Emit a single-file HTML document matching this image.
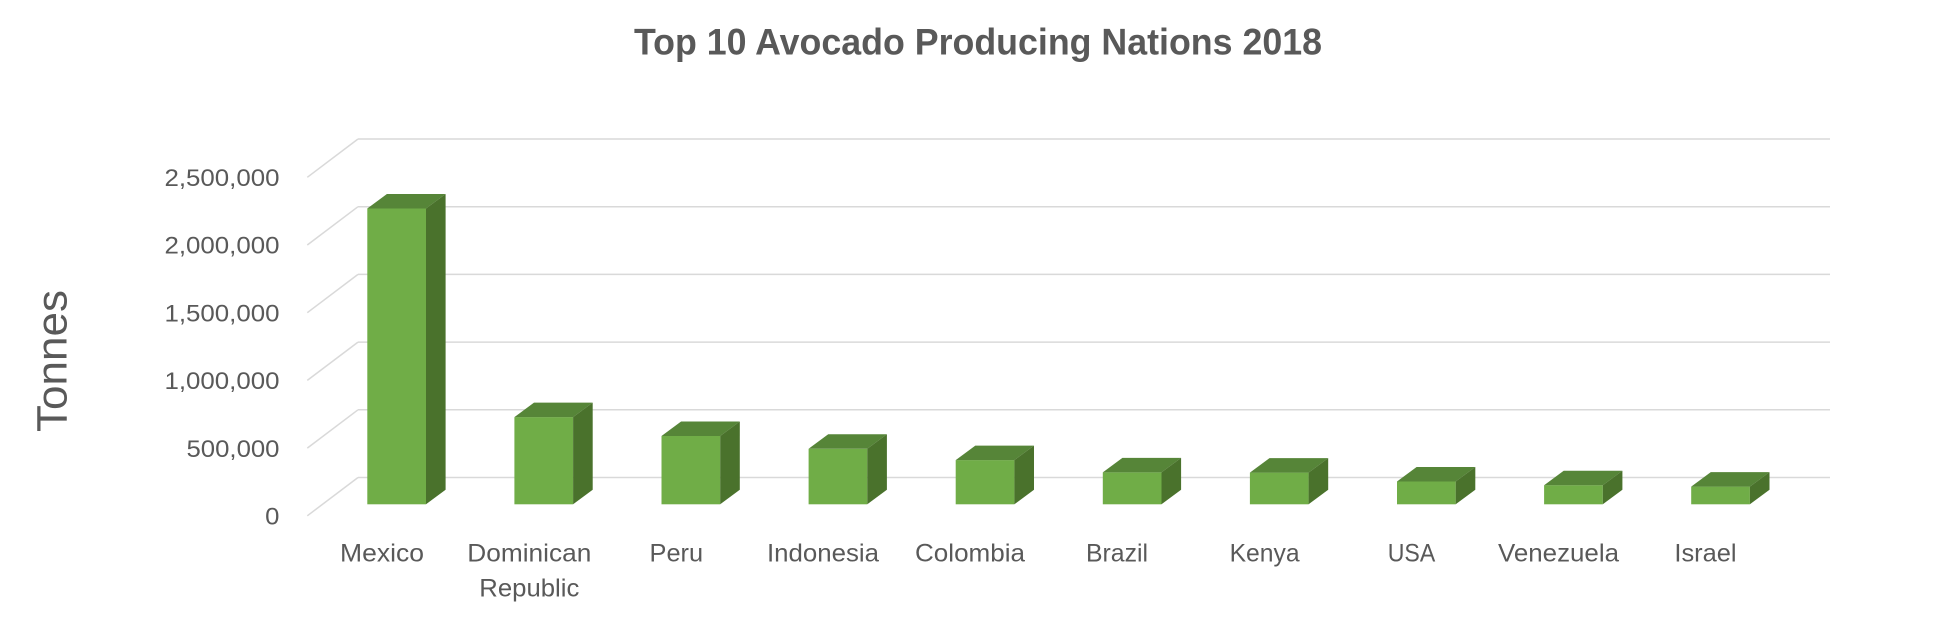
<!DOCTYPE html>
<html>
<head>
<meta charset="utf-8">
<style>
  html, body { margin: 0; padding: 0; background: #ffffff; }
  svg { display: block; }
  text { font-family: "Liberation Sans", Arial, sans-serif; fill: #595959; }
</style>
</head>
<body>
<svg width="1956" height="643" viewBox="0 0 1956 643" xmlns="http://www.w3.org/2000/svg">
  <rect x="0" y="0" width="1956" height="643" fill="#ffffff"/>

  <!-- Title -->
  <text x="978" y="54.3" font-size="37" font-weight="bold" text-anchor="middle" textLength="688" lengthAdjust="spacingAndGlyphs">Top 10 Avocado Producing Nations 2018</text>

  <!-- Axis title -->
  <text transform="translate(66.7,361) rotate(-90)" x="0" y="0" font-size="43" text-anchor="middle" textLength="142" lengthAdjust="spacingAndGlyphs">Tonnes</text>

  <!-- Gridlines (back wall) and side-wall diagonals -->
  <g stroke="#D9D9D9" stroke-width="1.5" fill="none">
    <line x1="358" y1="139" x2="1830" y2="139"/>
    <line x1="358" y1="206.7" x2="1830" y2="206.7"/>
    <line x1="358" y1="274.4" x2="1830" y2="274.4"/>
    <line x1="358" y1="342.1" x2="1830" y2="342.1"/>
    <line x1="358" y1="409.8" x2="1830" y2="409.8"/>
    <line x1="358" y1="477.5" x2="1830" y2="477.5"/>
    <line x1="358" y1="139" x2="307.3" y2="177.3"/>
    <line x1="358" y1="206.7" x2="307.3" y2="245"/>
    <line x1="358" y1="274.4" x2="307.3" y2="312.7"/>
    <line x1="358" y1="342.1" x2="307.3" y2="380.4"/>
    <line x1="358" y1="409.8" x2="307.3" y2="448.1"/>
    <line x1="358" y1="477.5" x2="307.3" y2="515.8"/>
  </g>

  <!-- Y tick labels -->
  <g font-size="24" text-anchor="end">
    <text x="279.5" y="186" textLength="115" lengthAdjust="spacingAndGlyphs">2,500,000</text>
    <text x="279.5" y="253.7" textLength="115" lengthAdjust="spacingAndGlyphs">2,000,000</text>
    <text x="279.5" y="321.4" textLength="115" lengthAdjust="spacingAndGlyphs">1,500,000</text>
    <text x="279.5" y="389.1" textLength="115" lengthAdjust="spacingAndGlyphs">1,000,000</text>
    <text x="279.5" y="456.8" textLength="93" lengthAdjust="spacingAndGlyphs">500,000</text>
    <text x="279.5" y="524.5" textLength="14.3" lengthAdjust="spacingAndGlyphs">0</text>
  </g>

  <!-- Bars -->
  <g stroke="none">
    <!-- Mexico -->
    <rect x="367.3" y="208.5" width="58.7" height="295.8" fill="#70AD47"/>
    <polygon points="367.3,208.5 426,208.5 445.6,194 386.9,194" fill="#568538"/>
    <polygon points="426,208.5 445.6,194 445.6,489.8 426,504.3" fill="#4A722C"/>
    <!-- Dominican Republic -->
    <rect x="514.4" y="417.1" width="58.7" height="87.2" fill="#70AD47"/>
    <polygon points="514.4,417.1 573.1,417.1 592.7,402.6 534,402.6" fill="#568538"/>
    <polygon points="573.1,417.1 592.7,402.6 592.7,489.8 573.1,504.3" fill="#4A722C"/>
    <!-- Peru -->
    <rect x="661.5" y="436" width="58.7" height="68.3" fill="#70AD47"/>
    <polygon points="661.5,436 720.2,436 739.8,421.5 681.1,421.5" fill="#568538"/>
    <polygon points="720.2,436 739.8,421.5 739.8,489.8 720.2,504.3" fill="#4A722C"/>
    <!-- Indonesia -->
    <rect x="808.6" y="448.8" width="58.7" height="55.5" fill="#70AD47"/>
    <polygon points="808.6,448.8 867.3,448.8 886.9,434.3 828.2,434.3" fill="#568538"/>
    <polygon points="867.3,448.8 886.9,434.3 886.9,489.8 867.3,504.3" fill="#4A722C"/>
    <!-- Colombia -->
    <rect x="955.7" y="460.1" width="58.7" height="44.2" fill="#70AD47"/>
    <polygon points="955.7,460.1 1014.4,460.1 1034,445.6 975.3,445.6" fill="#568538"/>
    <polygon points="1014.4,460.1 1034,445.6 1034,489.8 1014.4,504.3" fill="#4A722C"/>
    <!-- Brazil -->
    <rect x="1102.8" y="472.4" width="58.7" height="31.9" fill="#70AD47"/>
    <polygon points="1102.8,472.4 1161.5,472.4 1181.1,457.9 1122.4,457.9" fill="#568538"/>
    <polygon points="1161.5,472.4 1181.1,457.9 1181.1,489.8 1161.5,504.3" fill="#4A722C"/>
    <!-- Kenya -->
    <rect x="1249.9" y="472.6" width="58.7" height="31.7" fill="#70AD47"/>
    <polygon points="1249.9,472.6 1308.6,472.6 1328.2,458.1 1269.5,458.1" fill="#568538"/>
    <polygon points="1308.6,472.6 1328.2,458.1 1328.2,489.8 1308.6,504.3" fill="#4A722C"/>
    <!-- USA -->
    <rect x="1397" y="481.5" width="58.7" height="22.8" fill="#70AD47"/>
    <polygon points="1397,481.5 1455.7,481.5 1475.3,467 1416.6,467" fill="#568538"/>
    <polygon points="1455.7,481.5 1475.3,467 1475.3,489.8 1455.7,504.3" fill="#4A722C"/>
    <!-- Venezuela -->
    <rect x="1544.1" y="485.2" width="58.7" height="19.1" fill="#70AD47"/>
    <polygon points="1544.1,485.2 1602.8,485.2 1622.4,470.7 1563.7,470.7" fill="#568538"/>
    <polygon points="1602.8,485.2 1622.4,470.7 1622.4,489.8 1602.8,504.3" fill="#4A722C"/>
    <!-- Israel -->
    <rect x="1691.2" y="486.6" width="58.7" height="17.7" fill="#70AD47"/>
    <polygon points="1691.2,486.6 1749.9,486.6 1769.5,472.1 1710.8,472.1" fill="#568538"/>
    <polygon points="1749.9,486.6 1769.5,472.1 1769.5,489.8 1749.9,504.3" fill="#4A722C"/>
  </g>

  <!-- Category labels -->
  <g font-size="25" text-anchor="middle">
    <text x="382" y="561.7" textLength="84" lengthAdjust="spacingAndGlyphs">Mexico</text>
    <text x="529.3" y="561.7" textLength="124" lengthAdjust="spacingAndGlyphs">Dominican</text>
    <text x="529.3" y="596.7" textLength="100" lengthAdjust="spacingAndGlyphs">Republic</text>
    <text x="676.3" y="561.7" textLength="53.5" lengthAdjust="spacingAndGlyphs">Peru</text>
    <text x="823" y="561.7" textLength="112" lengthAdjust="spacingAndGlyphs">Indonesia</text>
    <text x="970" y="561.7" textLength="110" lengthAdjust="spacingAndGlyphs">Colombia</text>
    <text x="1117" y="561.7" textLength="62" lengthAdjust="spacingAndGlyphs">Brazil</text>
    <text x="1264.6" y="561.7" textLength="70" lengthAdjust="spacingAndGlyphs">Kenya</text>
    <text x="1411.5" y="561.7" textLength="47.5" lengthAdjust="spacingAndGlyphs">USA</text>
    <text x="1558.5" y="561.7" textLength="121" lengthAdjust="spacingAndGlyphs">Venezuela</text>
    <text x="1705.5" y="561.7" textLength="62.2" lengthAdjust="spacingAndGlyphs">Israel</text>
  </g>
</svg>
</body>
</html>
